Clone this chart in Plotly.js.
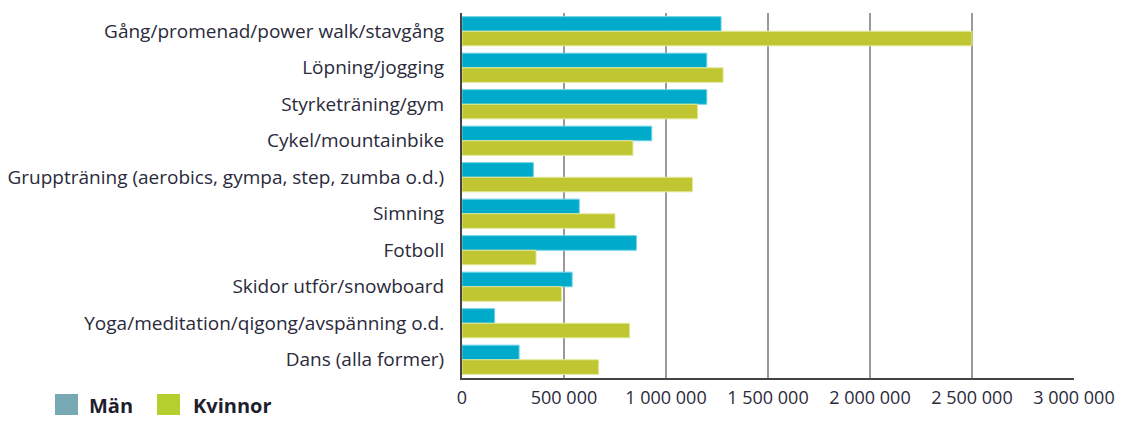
<!DOCTYPE html>
<html>
<head>
<meta charset="utf-8">
<script src="https://cdn.plot.ly/plotly-3.0.1.min.js"></script>
<style>html,body{margin:0;padding:0;background:#fff}#chart{width:1124px;height:424px}</style>
</head>
<body>
<div id="chart"></div>
<script>
const categories = [
  "Gång/promenad/power walk/stavgång",
  "Löpning/jogging",
  "Styrketräning/gym",
  "Cykel/mountainbike",
  "Gruppträning (aerobics, gympa, step, zumba o.d.)",
  "Simning",
  "Fotboll",
  "Skidor utför/snowboard",
  "Yoga/meditation/qigong/avspänning o.d.",
  "Dans (alla former)"
];
const man = [1270000, 1200000, 1200000, 930000, 350000, 575000, 855000, 540000, 160000, 280000];
const kvinnor = [2500000, 1280000, 1155000, 838000, 1130000, 750000, 363000, 488000, 822000, 670000];
const tickVals = [0, 500000, 1000000, 1500000, 2000000, 2500000, 3000000];
const seriesNames = ["Män", "Kvinnor"];

const font = "Open Sans, Liberation Sans, sans-serif";
const L = 462, R = 50, T = 13, B = 46, W = 1124, H = 424;
const pw = W - L - R, ph = H - T - B;
const px = v => (v - L) / pw;
const py = v => (H - B - v) / ph;

const traces = [
  {type: "bar", orientation: "h", name: seriesNames[0], y: categories, x: man,
   marker: {color: "#00AACB", line: {color: "#6FD3E6", width: 1}}},
  {type: "bar", orientation: "h", name: seriesNames[1], y: categories, x: kvinnor,
   marker: {color: "#BFC631", line: {color: "#E2E99A", width: 1}}}
];
const layout = {
  width: W, height: H,
  margin: {l: L, r: R, t: T, b: B},
  paper_bgcolor: "#fff", plot_bgcolor: "#fff",
  barmode: "group", bargap: 0.2, bargroupgap: 0,
  showlegend: false,
  separators: ", ",
  font: {family: font, color: "#333", size: 14},
  xaxis: {range: [0, 3000000], tickvals: tickVals, tickformat: ",d",
          showgrid: true, gridcolor: "#9a9a9a", gridwidth: 1.5,
          zeroline: false, showline: true, linecolor: "#444", linewidth: 2,
          ticks: "", ticklabelstandoff: 2, tickfont: {size: 18, color: "#2a2a3a"}, fixedrange: true},
  yaxis: {type: "category", autorange: "reversed", showgrid: false, zeroline: false,
          showline: true, linecolor: "#444", linewidth: 2, ticks: "", ticklen: 0,
          ticklabelstandoff: 12,
          tickfont: {size: 19, color: "#2a2a3a"}},
  shapes: [
    {type: "rect", xref: "paper", yref: "paper", x0: px(55), x1: px(78), y0: py(415), y1: py(394),
     fillcolor: "#76A9B4", line: {width: 0}},
    {type: "rect", xref: "paper", yref: "paper", x0: px(157), x1: px(180), y0: py(415), y1: py(394),
     fillcolor: "#B5CF2F", line: {width: 0}}
  ],
  annotations: [
    {xref: "paper", yref: "paper", x: px(87), y: py(406), xanchor: "left", yanchor: "middle",
     text: "<b>" + seriesNames[0] + "</b>", showarrow: false, font: {size: 20, color: "#1e1e2e"}},
    {xref: "paper", yref: "paper", x: px(191), y: py(406), xanchor: "left", yanchor: "middle",
     text: "<b>" + seriesNames[1] + "</b>", showarrow: false, font: {size: 20, color: "#1e1e2e"}}
  ]
};
Plotly.newPlot("chart", traces, layout, {displayModeBar: false, staticPlot: true});
</script>
</body>
</html>
